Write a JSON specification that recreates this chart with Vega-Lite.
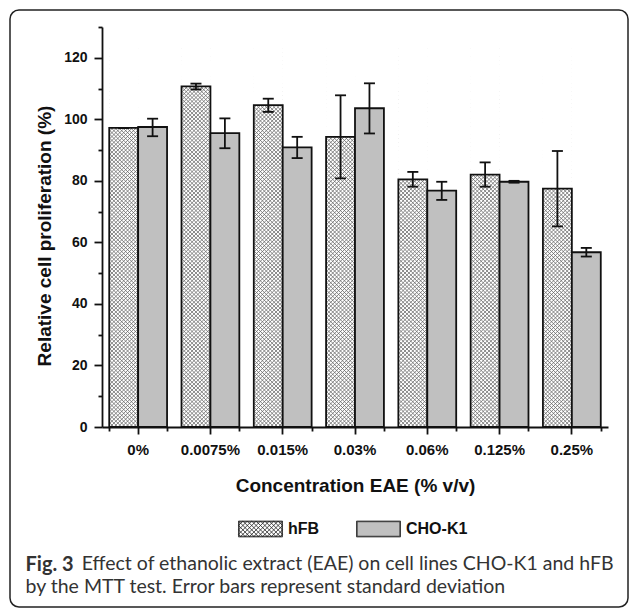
{
  "$schema": "https://vega.github.io/schema/vega-lite/v6.json",
  "width": 618,
  "height": 597,
  "autosize": {"type": "none"},
  "padding": {"left": 10, "top": 10, "right": 2, "bottom": 2},
  "background": "white",
  "title": {
    "text": "Effect of ethanolic extract (EAE) on cell lines CHO-K1 and hFB",
    "orient": "top", "anchor": "start", "frame": "group", "offset": 0,
    "dx": 71.7, "dy": 579, "baseline": "alphabetic",
    "font": "Lato", "fontSize": 19.5, "fontWeight": "normal", "color": "#333", "limit": 1000
  },
  "config": {
    "view": {"stroke": "#222", "strokeWidth": 1.5, "cornerRadius": 9},
    "legend": {"symbolStrokeWidth": 0.8},
    "axis": {
      "grid": false, "domainColor": "#111", "tickColor": "#111", "domainWidth": 1.8, "tickWidth": 1.8,
      "labelColor": "#111", "titleColor": "#111", "labelFont": "Liberation Sans", "titleFont": "Liberation Sans",
      "labelFontWeight": "bold", "titleFontWeight": "bold"
    }
  },
  "data": {
    "values": [
      {"conc": "0%", "series": "hFB", "value": 97.2, "lo": 97.2, "hi": 97.2},
      {"conc": "0%", "series": "CHO-K1", "value": 97.5, "lo": 94.5, "hi": 100.2},
      {"conc": "0.0075%", "series": "hFB", "value": 110.7, "lo": 109.7, "hi": 111.6},
      {"conc": "0.0075%", "series": "CHO-K1", "value": 95.5, "lo": 90.6, "hi": 100.3},
      {"conc": "0.015%", "series": "hFB", "value": 104.6, "lo": 102.4, "hi": 106.7},
      {"conc": "0.015%", "series": "CHO-K1", "value": 90.9, "lo": 87.4, "hi": 94.3},
      {"conc": "0.03%", "series": "hFB", "value": 94.3, "lo": 80.8, "hi": 107.8},
      {"conc": "0.03%", "series": "CHO-K1", "value": 103.6, "lo": 95.4, "hi": 111.7},
      {"conc": "0.06%", "series": "hFB", "value": 80.5, "lo": 78.1, "hi": 82.9},
      {"conc": "0.06%", "series": "CHO-K1", "value": 76.8, "lo": 73.8, "hi": 79.7},
      {"conc": "0.125%", "series": "hFB", "value": 82.0, "lo": 78.1, "hi": 86.0},
      {"conc": "0.125%", "series": "CHO-K1", "value": 79.7, "lo": 79.4, "hi": 80.0},
      {"conc": "0.25%", "series": "hFB", "value": 77.5, "lo": 65.2, "hi": 89.7},
      {"conc": "0.25%", "series": "CHO-K1", "value": 56.8, "lo": 55.4, "hi": 58.2}
    ]
  },
  "encoding": {
    "x": {"field": "conc", "type": "nominal",
      "scale": {"domain": ["0%", "0.0075%", "0.015%", "0.03%", "0.06%", "0.125%", "0.25%"], "range": [92, 598], "paddingInner": 0.2, "paddingOuter": 0.1},
      "axis": null},
    "xOffset": {"field": "series", "type": "nominal", "scale": {"domain": ["hFB", "CHO-K1"]}}
  },
  "layer": [
    {
      "transform": [{"filter": "datum.series === 'hFB'"}],
      "mark": {"type": "point", "filled": false, "stroke": "#6a6a6a", "strokeWidth": 0.8, "strokeJoin": "bevel", "opacity": 1, "size": 745,
        "shape": "M-1 0l2 -2l-2 -2l2 -2l-2 -2l2 -2l-2 -2l2 -2l-2 -2l2 -2l-2 -2l2 -2l-2 -2l2 -2M-0.7143 0l-0.2857 -0.2857l2 -2l-2 -2l2 -2l-2 -2l2 -2l-2 -2l2 -2l-2 -2l2 -2l-2 -2l2 -2l-2 -2l2 -2M-0.4286 0l-0.5714 -0.5714l2 -2l-2 -2l2 -2l-2 -2l2 -2l-2 -2l2 -2l-2 -2l2 -2l-2 -2l2 -2l-2 -2l2 -2M-0.1429 0l-0.8571 -0.8571l2 -2l-2 -2l2 -2l-2 -2l2 -2l-2 -2l2 -2l-2 -2l2 -2l-2 -2l2 -2l-2 -2l2 -2M0.1429 0l-1.1429 -1.1429l2 -2l-2 -2l2 -2l-2 -2l2 -2l-2 -2l2 -2l-2 -2l2 -2l-2 -2l2 -2l-2 -2l2 -2M0.4286 0l-1.4286 -1.4286l2 -2l-2 -2l2 -2l-2 -2l2 -2l-2 -2l2 -2l-2 -2l2 -2l-2 -2l2 -2l-2 -2l2 -2M0.7143 0l-1.7143 -1.7143l2 -2l-2 -2l2 -2l-2 -2l2 -2l-2 -2l2 -2l-2 -2l2 -2l-2 -2l2 -2l-2 -2l2 -2M1 0l-2 -2l2 -2l-2 -2l2 -2l-2 -2l2 -2l-2 -2l2 -2l-2 -2l2 -2l-2 -2l2 -2l-2 -2M0.7143 0l0.2857 -0.2857l-2 -2l2 -2l-2 -2l2 -2l-2 -2l2 -2l-2 -2l2 -2l-2 -2l2 -2l-2 -2l2 -2l-2 -2M0.4286 0l0.5714 -0.5714l-2 -2l2 -2l-2 -2l2 -2l-2 -2l2 -2l-2 -2l2 -2l-2 -2l2 -2l-2 -2l2 -2l-2 -2M0.1429 0l0.8571 -0.8571l-2 -2l2 -2l-2 -2l2 -2l-2 -2l2 -2l-2 -2l2 -2l-2 -2l2 -2l-2 -2l2 -2l-2 -2M-0.1429 0l1.1429 -1.1429l-2 -2l2 -2l-2 -2l2 -2l-2 -2l2 -2l-2 -2l2 -2l-2 -2l2 -2l-2 -2l2 -2l-2 -2M-0.4286 0l1.4286 -1.4286l-2 -2l2 -2l-2 -2l2 -2l-2 -2l2 -2l-2 -2l2 -2l-2 -2l2 -2l-2 -2l2 -2l-2 -2M-0.7143 0l1.7143 -1.7143l-2 -2l2 -2l-2 -2l2 -2l-2 -2l2 -2l-2 -2l2 -2l-2 -2l2 -2l-2 -2l2 -2l-2 -2"},
      "encoding": {
        "y": {"datum": 0, "type": "quantitative", "scale": {"domain": [0, 130], "range": [417, 17], "nice": false}, "axis": null}
      }
    },
    {
      "transform": [{"filter": "datum.series === 'hFB'"}],
      "mark": {"type": "bar", "fill": "white"},
      "encoding": {
        "x": {"field": "conc", "type": "nominal",
          "scale": {"domain": ["0%", "0.0075%", "0.015%", "0.03%", "0.06%", "0.125%", "0.25%"], "range": [92, 598], "paddingInner": 0.2, "paddingOuter": 0.1},
          "axis": {"orient": "bottom", "offset": -180, "tickBand": "extent", "grid": false, "tickSize": 4, "labels": false, "domain": false,
            "title": "Fig. 3", "titleFont": "Lato", "titleFontSize": 20, "titleFontWeight": "bold", "titleColor": "#333",
            "titleX": 15, "titleY": 143, "titleAlign": "left", "titleBaseline": "alphabetic", "titleAngle": 0}},
        "y": {"field": "value", "type": "quantitative", "scale": {"domain": [0, 130], "range": [417, 17], "nice": false},
          "axis": {"orient": "left", "offset": -92, "values": [10, 30, 50, 70, 90, 110, 130], "grid": false, "tickSize": 4, "labels": false, "domain": false,
            "title": "by the MTT test. Error bars represent standard deviation", "titleFont": "Lato", "titleFontSize": 19.5, "titleFontWeight": "normal",
            "titleColor": "#333", "titleAngle": 0, "titleAlign": "left", "titleBaseline": "alphabetic", "titleX": -77, "titleY": 582, "titleLimit": 1000}},
        "y2": {"datum": 130}
      }
    },
    {
      "mark": {"type": "bar", "stroke": "#111", "strokeWidth": 1.8},
      "encoding": {
        "x": {"field": "conc", "type": "nominal",
          "scale": {"domain": ["0%", "0.0075%", "0.015%", "0.03%", "0.06%", "0.125%", "0.25%"], "range": [92, 598], "paddingInner": 0.2, "paddingOuter": 0.1},
          "axis": {"orient": "bottom", "offset": -180, "grid": false, "tickSize": 7, "labelPadding": 8, "labelFontSize": 15, "labelAngle": 0,
            "title": "Concentration EAE (% v/v)", "titleFontSize": 19, "titleY": 64, "titleBaseline": "alphabetic"}},
        "y": {"field": "value", "type": "quantitative", "scale": {"domain": [0, 130], "range": [417, 17], "nice": false},
          "axis": {"orient": "left", "offset": -92, "values": [0, 20, 40, 60, 80, 100, 120], "grid": false, "tickSize": 8, "labelPadding": 7, "labelFontSize": 14,
            "title": "Relative cell proliferation (%)", "titleFontSize": 19, "titleX": -52, "titleY": 225.5, "titleBaseline": "alphabetic"}},
        "fill": {"condition": {"test": "datum.series === 'CHO-K1'", "value": "#c0c0c0"}, "value": "transparent"}
      }
    },
    {
      "mark": {"type": "rule", "color": "#111", "strokeWidth": 1.8},
      "encoding": {
        "y": {"field": "lo", "type": "quantitative", "axis": null},
        "y2": {"field": "hi"}
      }
    },
    {
      "mark": {"type": "tick", "color": "#111", "size": 11, "thickness": 1.8, "opacity": 1},
      "encoding": {"y": {"field": "lo", "type": "quantitative", "axis": null}}
    },
    {
      "mark": {"type": "tick", "color": "#111", "size": 11, "thickness": 1.8, "opacity": 1},
      "encoding": {"y": {"field": "hi", "type": "quantitative", "axis": null}}
    },
    {
      "transform": [{"filter": "false"}],
      "mark": {"type": "point", "filled": true, "stroke": "#222", "strokeWidth": 0.8, "opacity": 1},
      "encoding": {
        "fill": {"field": "series", "type": "nominal", "scale": {"domain": ["hFB", "CHO-K1"], "range": ["transparent", "#c0c0c0"]},
          "legend": {"orient": "none", "legendX": 228, "legendY": 496, "direction": "horizontal", "title": null, "padding": 0,
            "symbolSize": 1936, "symbolOpacity": 1,
            "labelFont": "Liberation Sans", "labelFontWeight": "bold", "labelFontSize": 16, "labelColor": "#111", "labelOffset": 5, "columnPadding": 34}},
        "shape": {"field": "series", "type": "nominal",
          "scale": {"domain": ["hFB", "CHO-K1"], "range": [
            "M-1 -0.36h2v0.72h-2zM-0.97 -0.33h1.94v0.66h-1.94zM-1 -0.36l0.72 0.72M-0.8 -0.36l0.72 0.72M-0.6 -0.36l0.72 0.72M-0.4 -0.36l0.72 0.72M-0.2 -0.36l0.72 0.72M0 -0.36l0.72 0.72M0.2 -0.36l0.72 0.72M0.4 -0.36l0.6 0.6M0.6 -0.36l0.4 0.4M0.8 -0.36l0.2 0.2M-1 -0.16l0.52 0.52M-1 0.04l0.32 0.32M-1 0.24l0.12 0.12M1 -0.36l-0.72 0.72M0.8 -0.36l-0.72 0.72M0.6 -0.36l-0.72 0.72M0.4 -0.36l-0.72 0.72M0.2 -0.36l-0.72 0.72M0 -0.36l-0.72 0.72M-0.2 -0.36l-0.72 0.72M-0.4 -0.36l-0.6 0.6M-0.6 -0.36l-0.4 0.4M-0.8 -0.36l-0.2 0.2M1 -0.16l-0.52 0.52M1 0.04l-0.32 0.32M1 0.24l-0.12 0.12",
            "M-1 -0.36h2v0.72h-2zM-0.97 -0.33h1.94v0.66h-1.94z"]},
          "legend": {"orient": "none", "legendX": 228, "legendY": 496, "direction": "horizontal", "title": null, "padding": 0,
            "symbolSize": 1936, "symbolOpacity": 1,
            "labelFont": "Liberation Sans", "labelFontWeight": "bold", "labelFontSize": 16, "labelColor": "#111", "labelOffset": 5, "columnPadding": 34}}
      }
    }
  ],
  "resolve": {"axis": {"x": "independent", "y": "independent"}}
}
